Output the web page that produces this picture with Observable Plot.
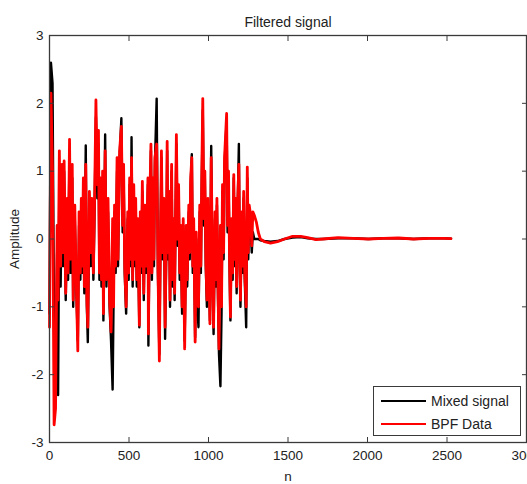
<!DOCTYPE html>
<html>
<head>
<meta charset="utf-8">
<script src="https://cdn.jsdelivr.net/npm/d3@7"></script>
<script src="https://cdn.jsdelivr.net/npm/@observablehq/plot@0.6"></script>
<style>
  html, body { margin: 0; padding: 0; background: #fff; overflow: hidden; }
  #wrap { position: relative; width: 527px; height: 484px; }
  .legend {
    position: absolute; left: 373px; top: 386px; width: 146px; height: 48px;
    border: 1px solid #3a3a3a; background: #fff;
    font: 14px "Liberation Sans", Arial, sans-serif; color: #222;
  }
  .legend .row { position: absolute; left: 0; height: 18px; width: 100%; }
  .legend .swatch { position: absolute; left: 7px; top: 8px; width: 45px; height: 2px; }
  .legend .label { position: absolute; left: 57px; top: 0; line-height: 18px; white-space: nowrap; }
</style>
</head>
<body>
<div id="wrap"></div>
<script>
// Sample index n shared by both traces
const sampleN = [0,9,19,29,38,48,54,62,70,79,
  86,92,102,111,117,126,133,143,149,159,
  168,178,186,194,200,206,213,219,228,235,
  241,251,260,266,276,282,292,301,308,314,
  320,327,334,339,350,358,368,378,387,397,
  403,409,416,425,431,441,452,460,466,473,
  482,492,498,504,511,516,523,530,536,542,
  549,555,565,571,577,584,593,600,609,619,
  622,631,638,644,650,657,663,674,682,691,
  698,704,711,720,727,736,740,745,752,758,
  768,774,781,787,798,806,812,819,825,834,
  841,850,860,866,876,882,888,895,901,907,
  916,923,930,937,945,952,958,964,971,977,
  983,990,996,1002,1009,1017,1025,1032,1041,1047,
  1053,1060,1066,1075,1082,1088,1095,1101,1114,1120,
  1126,1133,1138,1145,1152,1159,1164,1171,1177,1183,
  1191,1196,1201,1209,1215,1221,1228,1237,1244,1250,
  1256,1265,1272,1279,1288,1301,1313,1326,1351,1390,
  1434,1478,1529,1580,1624,1675,1720,1815,1910,2005,
  2100,2195,2290,2386,2481,2525];

// Mixed (unfiltered) signal amplitude
const mixedAmp = [-1.1,2.6,2.3,-1.4,-2.0,-0.2,-2.3,0.9,-0.7,0.9,
  -0.4,1.0,-0.9,0.4,-0.6,1.3,-0.5,0.9,-1.0,0.3,
  -0.7,-1.5,0.2,-0.6,0.4,-0.5,0.8,-0.8,1.38,-1.0,
  -1.52,0.5,-0.4,0.5,-0.6,0.2,1.8,0.6,1.4,-0.6,
  0.7,-0.7,0.9,-1.2,1.54,-0.7,0.4,-1.0,-1.5,-2.22,
  -0.9,0.4,-0.5,1.0,-0.4,1.2,1.78,0.1,1.0,-0.5,
  -1.1,0.3,-0.6,0.8,-0.4,1.5,-0.7,0.6,-0.4,0.5,
  -0.7,0.2,-1.3,0.3,-0.5,0.7,-0.9,0.4,-0.5,0.8,
  -1.57,0.5,1.3,-0.6,0.8,-0.4,1.1,2.07,-0.5,-1.7,
  0.0,1.2,-0.3,0.5,-1.47,0.1,1.3,-0.3,0.6,-1.0,
  1.0,-0.7,0.2,-0.9,1.4,-0.1,0.7,-0.6,0.1,-1.1,
  0.2,-1.5,0.1,-0.7,0.4,-0.3,0.8,1.25,-0.5,0.2,
  -1.45,0.0,-1.0,-1.3,0.4,-0.5,0.9,1.9,0.2,0.9,
  -0.4,-1.0,0.5,-0.4,-1.2,1.37,-0.5,-1.4,0.3,-0.7,
  0.5,-0.9,-1.7,-2.17,-1.1,0.7,-0.3,1.1,1.75,0.1,
  0.9,-0.5,-1.2,0.2,-0.6,0.9,-0.4,0.5,-0.8,0.4,
  1.4,-0.3,-1.0,0.3,-0.5,0.6,-0.6,-1.3,0.9,-0.3,
  0.4,0.2,-0.2,0.1,0.0,0.0,0.0,-0.02,-0.03,-0.04,
  -0.03,0.0,0.02,0.03,0.01,0.0,0.0,0.01,0.01,0.0,
  0.01,0.01,0.0,0.01,0.01,0.005];

// Band-pass filtered output amplitude
const bpfAmp = [-1.3,2.15,1.0,-2.74,-2.5,0.2,-0.9,1.3,-0.4,1.1,
  -0.2,1.15,-0.8,0.6,-0.5,1.47,-0.3,1.1,-0.9,0.5,
  -0.6,-1.65,0.4,-0.5,0.6,-0.4,0.9,-0.7,1.1,-0.9,
  -1.3,0.7,-0.2,0.6,-0.5,0.3,2.05,0.8,1.6,-0.5,
  0.9,-0.6,1.0,-1.1,1.3,-0.6,0.6,-0.9,-1.37,0.3,
  -1.0,0.5,-0.4,1.2,-0.3,1.3,1.66,0.2,1.1,-0.4,
  -1.0,0.4,-0.5,0.9,-0.3,1.2,-0.6,0.8,-0.3,0.6,
  -0.6,0.3,-1.27,0.4,-0.4,0.85,-0.8,0.5,-0.4,0.9,
  -1.4,0.6,1.4,-0.5,0.9,-0.3,1.2,1.4,-0.4,-1.8,
  0.1,1.3,-0.2,0.6,-1.3,0.2,1.44,-0.2,0.7,-0.9,
  1.1,-0.6,0.3,-0.8,1.54,0.0,0.8,-0.5,0.2,-1.0,
  0.3,-1.62,0.2,-0.6,0.5,-0.2,0.9,1.2,-0.4,0.3,
  -1.52,0.1,-0.9,-1.0,0.5,-0.4,1.0,2.07,0.3,1.0,
  -0.3,-0.9,0.6,-0.3,-1.25,1.2,-0.4,-1.3,0.4,-0.6,
  0.6,-0.8,-1.62,0.2,-1.0,0.8,-0.2,1.2,1.85,0.2,
  1.0,-0.4,-1.15,0.3,-0.5,0.95,-0.3,0.6,-0.7,0.5,
  1.1,-0.2,-0.9,0.4,-0.4,0.7,-0.5,-1.0,1.06,-0.2,
  0.5,0.35,-0.1,0.4,0.35,0.25,0.1,0.0,-0.04,-0.06,
  -0.04,0.0,0.04,0.04,0.02,-0.01,0.0,0.02,0.01,0.0,
  0.01,0.015,0.0,0.01,0.01,0.005];

const xTicks = [0, 500, 1000, 1500, 2000, 2500, 3000];
const yTicks = [-3, -2, -1, 0, 1, 2, 3];
const seriesNames = ["Mixed signal", "BPF Data"];
const seriesColors = ["#000000", "#ff0000"];

const mixedRows = sampleN.map((n, i) => ({n, amp: mixedAmp[i]}));
const bpfRows = sampleN.map((n, i) => ({n, amp: bpfAmp[i]}));

const font = '"Liberation Sans", Arial, sans-serif';
const axisColor = "#3a3a3a";
const tick = 5;

const chart = Plot.plot({
  width: 527,
  height: 484,
  marginTop: 35,
  marginBottom: 42,
  marginLeft: 49,
  marginRight: 1,
  style: {fontFamily: font, fontSize: "13.5px", color: "#222", background: "#fff", overflow: "visible"},
  x: {domain: [0, 3000]},
  y: {domain: [-3, 3]},
  marks: [
    Plot.line(mixedRows, {x: "n", y: "amp", stroke: seriesColors[0], strokeWidth: 2.4}),
    Plot.line(bpfRows, {x: "n", y: "amp", stroke: seriesColors[1], strokeWidth: 2.8}),
    Plot.frame({stroke: axisColor, strokeWidth: 1.3}),
    // tick labels and axis titles
    Plot.axisX(xTicks, {anchor: "bottom", tickSize: 0, tickPadding: 8, tickFormat: d => String(d),
      label: "n", labelAnchor: "center", labelOffset: 38, labelArrow: false, fontSize: 13.5}),
    Plot.axisY(yTicks, {anchor: "left", tickSize: 0, tickPadding: 6, tickFormat: d => String(d),
      label: "Amplitude", labelAnchor: "center", labelOffset: 40, labelArrow: false, fontSize: 13.5}),
    // inward tick marks on all four sides
    Plot.axisX(xTicks, {anchor: "bottom", tickSize: tick, dy: -tick, tickFormat: () => "", label: null, stroke: axisColor}),
    Plot.axisX(xTicks, {anchor: "top", tickSize: tick, dy: tick, tickFormat: () => "", label: null, stroke: axisColor}),
    Plot.axisY(yTicks, {anchor: "left", tickSize: tick, dx: tick, tickFormat: () => "", label: null, stroke: axisColor}),
    Plot.axisY(yTicks, {anchor: "right", tickSize: tick, dx: -tick, tickFormat: () => "", label: null, stroke: axisColor}),
    Plot.text(["Filtered signal"], {text: d => d, frameAnchor: "top", dy: -18, fontSize: 14, fill: "#222"})
  ]
});

const wrap = document.getElementById("wrap");
wrap.appendChild(chart);

// legend box in the lower right of the axes
const legend = document.createElement("div");
legend.className = "legend";
seriesNames.forEach((name, i) => {
  const row = document.createElement("div");
  row.className = "row";
  row.style.top = (5 + i * 23) + "px";
  const sw = document.createElement("div");
  sw.className = "swatch";
  sw.style.background = seriesColors[i];
  const lab = document.createElement("div");
  lab.className = "label";
  lab.textContent = name;
  row.appendChild(sw);
  row.appendChild(lab);
  legend.appendChild(row);
});
wrap.appendChild(legend);
</script>
</body>
</html>
